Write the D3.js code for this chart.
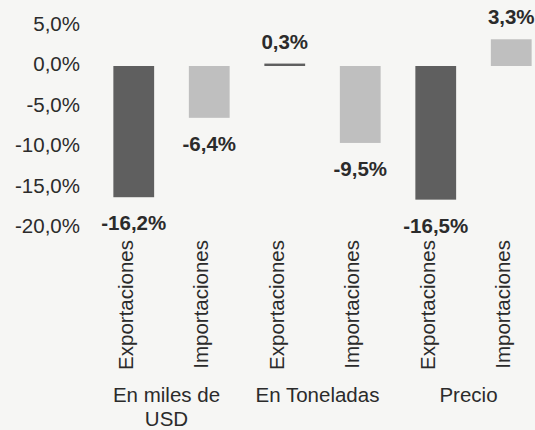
<!DOCTYPE html>
<html>
<head>
<meta charset="utf-8">
<script src="https://cdn.jsdelivr.net/npm/d3@7"></script>
<style>
  body { margin: 0; background: #f6f6f4; }
  svg { display: block; }
  text { font-family: "Liberation Sans", Arial, sans-serif; fill: #2b2b2b; }
</style>
</head>
<body>
<svg id="chart"></svg>
<script>
// data
var bars = ["usd_exp", "usd_imp", "ton_exp", "ton_imp", "pre_exp", "pre_imp"];
var barLabels = ["Exportaciones", "Importaciones", "Exportaciones", "Importaciones", "Exportaciones", "Importaciones"];
var values = [-16.2, -6.4, 0.3, -9.5, -16.5, 3.3];
var kinds = ["exp", "imp", "exp", "imp", "exp", "imp"];
var groups = [["En miles de", "USD"], ["En Toneladas"], ["Precio"]];
var yTicks = [5, 0, -5, -10, -15, -20];

var width = 535, height = 430;
var colors = {exp: "#5f5f5f", imp: "#bfbfbf"};
var fs = "20.5px";

var locale = d3.formatLocale({decimal: ",", thousands: ".", grouping: [3], currency: ["", "$"], minus: "-"});
var fmt = locale.format(".1f");

var svg = d3.select("#chart")
    .attr("width", width)
    .attr("height", height);

var x = d3.scaleBand()
    .domain(bars)
    .range([96, 549])
    .paddingInner(0.46)
    .paddingOuter(0.23);

var y = d3.scaleLinear()
    .domain([-20, 5])
    .range([228, 25.5]);

// y axis, labels only
var yAxis = d3.axisLeft(y)
    .tickValues(yTicks)
    .tickSize(0)
    .tickPadding(0)
    .tickFormat(function(d) { return fmt(d) + "%"; });

var gy = svg.append("g")
    .attr("transform", "translate(80,0)")
    .call(yAxis);
gy.select(".domain").remove();
gy.selectAll("text")
    .attr("dy", "0.32em")
    .attr("y", -2)
    .style("font-size", fs)
    .style("font-family", "'Liberation Sans', Arial, sans-serif")
    .style("fill", "#2b2b2b");

// bars
svg.selectAll(".bar")
    .data(values)
    .enter().append("rect")
    .attr("class", "bar")
    .attr("x", function(d, i) { return x(bars[i]); })
    .attr("width", x.bandwidth())
    .attr("y", function(d) { return y(Math.max(0, d)); })
    .attr("height", function(d) { return Math.abs(y(d) - y(0)); })
    .style("fill", function(d, i) { return colors[kinds[i]]; });

// value labels
svg.selectAll(".val")
    .data(values)
    .enter().append("text")
    .attr("class", "val")
    .attr("x", function(d, i) { return x(bars[i]) + x.bandwidth() / 2; })
    .attr("y", function(d) { return d >= 0 ? y(d) - 15 : y(d) + 33; })
    .attr("text-anchor", "middle")
    .style("font-size", fs)
    .style("font-weight", "bold")
    .text(function(d) { return fmt(d) + "%"; });

// rotated category labels
svg.selectAll(".cat")
    .data(barLabels)
    .enter().append("text")
    .attr("class", "cat")
    .attr("transform", function(d, i) {
      return "translate(" + (x(bars[i]) + x.bandwidth() / 2 - 1) + ",240) rotate(-90)";
    })
    .attr("text-anchor", "end")
    .style("font-size", fs)
    .text(function(d) { return d; });

// group labels
groups.forEach(function(lines, g) {
  var cx = (x(bars[g * 2]) + x(bars[g * 2 + 1]) + x.bandwidth()) / 2;
  var t = svg.append("text")
      .attr("text-anchor", "middle")
      .style("font-size", fs);
  lines.forEach(function(line, k) {
    t.append("tspan")
      .attr("x", cx - 5)
      .attr("y", 402 + k * 24)
      .text(line);
  });
});
</script>
</body>
</html>
